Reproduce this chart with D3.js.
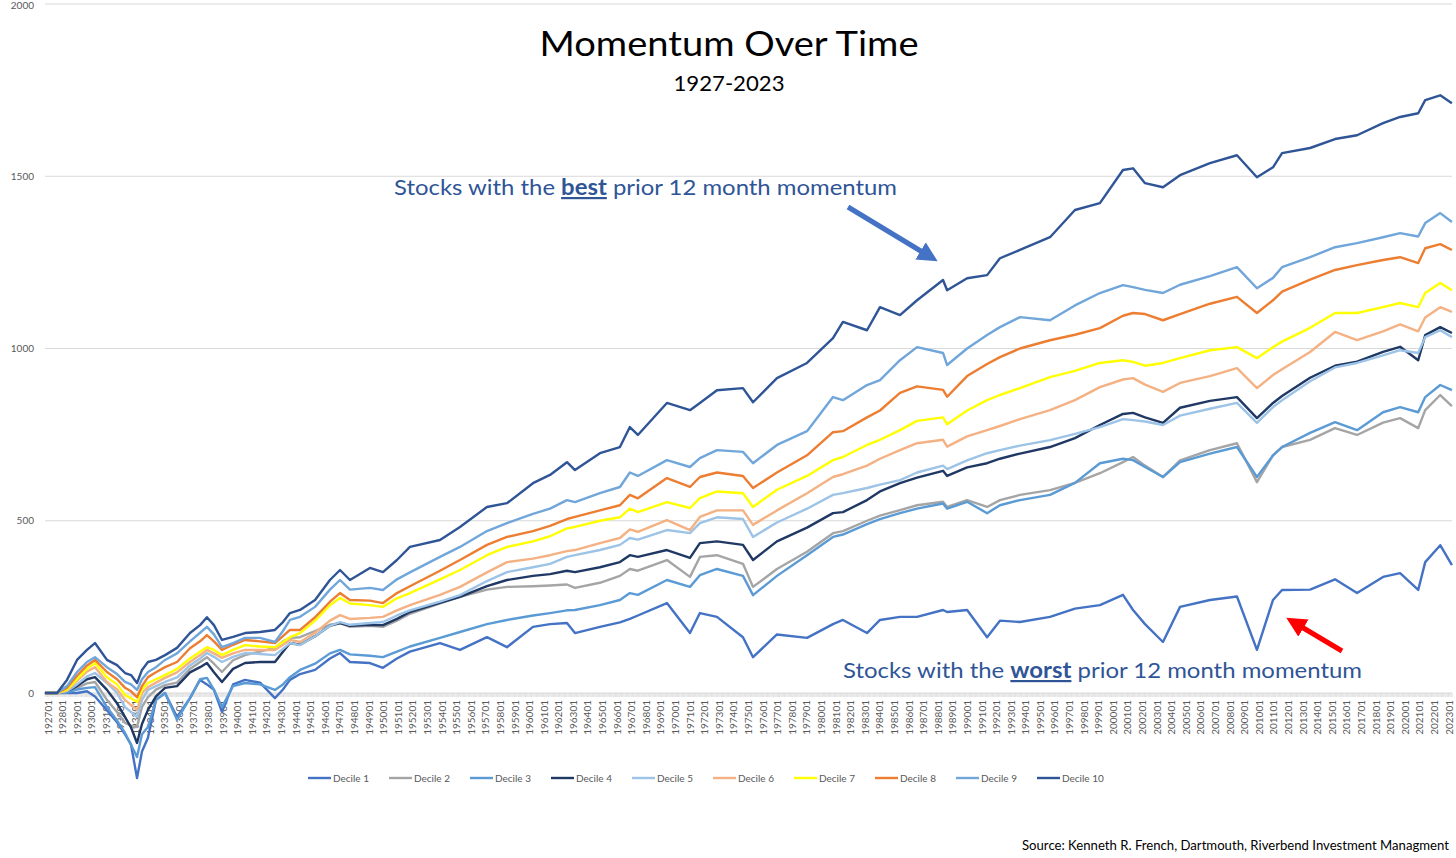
<!DOCTYPE html>
<html>
<head>
<meta charset="utf-8">
<script src="https://cdn.jsdelivr.net/npm/d3@7"></script>
<style>
	body { margin: 0; background: #fff; }
	svg { display: block; font-family: Lato, "Open Sans", sans-serif; }
</style>
</head>
<body>
<div id="chart-area"></div>
<script>
// sample dates (decimal years)
var dates = [1926.79, 1927.62, 1928.30, 1928.99, 1929.67, 1930.22, 1931.04, 1931.73, 1932.28, 1932.69,
	1933.10, 1933.44, 1933.85, 1934.40, 1935.02, 1935.84, 1936.73, 1937.42, 1937.89, 1938.37,
	1938.92, 1939.68, 1940.50, 1941.53, 1942.55, 1943.10, 1943.58, 1944.27, 1945.30, 1946.32,
	1947.01, 1947.69, 1949.06, 1949.95, 1950.91, 1951.80, 1953.86, 1955.23, 1957.08, 1958.45,
	1960.23, 1961.40, 1962.56, 1963.11, 1964.82, 1966.19, 1966.87, 1967.42, 1969.41, 1970.99,
	1971.67, 1972.84, 1974.62, 1975.31, 1976.95, 1979.01, 1980.79, 1981.47, 1983.12, 1984.01,
	1985.38, 1986.55, 1988.33, 1988.61, 1989.98, 1991.35, 1992.23, 1993.60, 1995.66, 1997.37,
	1999.08, 2000.66, 2001.35, 2002.17, 2003.40, 2004.57, 2006.62, 2008.47, 2009.84, 2010.94,
	2011.56, 2013.48, 2015.19, 2016.70, 2018.48, 2019.65, 2020.89, 2021.37, 2022.40, 2023.20];

var decile1 = [0, 0, 0, 0, 5, -10, -50, -85, -120, -150,
	-247, -170, -130, -20, 0, -70, -15, 38, 25, 9,
	-55, 25, 38, 30, -15, 10, 38, 55, 67, 100,
	116, 90, 87, 73, 100, 120, 145, 125, 162, 133,
	192, 200, 203, 174, 192, 205, 215, 225, 261, 174,
	232, 221, 162, 104, 170, 160, 200, 212, 174, 212,
	221, 221, 241, 235, 241, 162, 210, 206, 221, 245,
	255, 285, 241, 200, 148, 250, 270, 280, 125, 270,
	299, 300, 330, 290, 337, 348, 299, 380, 429, 371];
var decile2 = [0, 0, 3, 15, 28, 32, -20, -55, -87, -95,
	-99, -40, -12, 10, 23, 30, 70, 90, 104, 85,
	61, 95, 110, 120, 131, 150, 160, 162, 180, 198,
	203, 192, 195, 192, 210, 230, 260, 279, 300, 308,
	310, 312, 315, 305, 320, 340, 360, 355, 386, 337,
	395, 400, 375, 308, 360, 410, 464, 470, 500, 515,
	531, 545, 555, 540, 560, 540, 560, 575, 589, 610,
	638, 670, 685, 660, 627, 675, 705, 725, 612, 690,
	714, 735, 769, 749, 785, 798, 769, 821, 865, 833];
var decile3 = [0, 0, 2, 10, 15, 17, -41, -80, -116, -150,
	-186, -120, -99, -20, 0, -78, -15, 40, 44, 10,
	-41, 20, 29, 25, 9, 25, 46, 67, 85, 115,
	125, 112, 108, 104, 120, 135, 160, 177, 200, 212,
	225, 232, 240, 241, 255, 270, 290, 285, 328, 308,
	342, 360, 340, 284, 340, 400, 453, 460, 490, 505,
	522, 535, 550, 535, 555, 522, 545, 560, 575, 610,
	667, 680, 676, 656, 627, 670, 695, 714, 627, 690,
	714, 755, 786, 763, 815, 830, 815, 859, 894, 879];
var decile4 = [0, 0, 5, 20, 40, 46, 9, -30, -70, -100,
	-145, -90, -49, -10, 15, 20, 60, 75, 87, 60,
	32, 70, 87, 90, 90, 120, 145, 140, 165, 195,
	203, 195, 198, 197, 215, 235, 262, 279, 310, 328,
	340, 345, 355, 351, 365, 380, 400, 395, 415, 392,
	435, 440, 430, 386, 440, 480, 522, 525, 560, 585,
	609, 625, 645, 630, 655, 667, 680, 695, 714, 740,
	778, 810, 813, 800, 784, 828, 848, 859, 798, 842,
	862, 915, 950, 962, 990, 1005, 966, 1039, 1062, 1045];
var decile5 = [0, 0, 5, 25, 48, 58, 29, 0, -41, -55,
	-70, -20, 9, 20, 32, 45, 80, 100, 116, 105,
	90, 105, 116, 113, 110, 128, 145, 139, 165, 195,
	206, 198, 203, 206, 225, 240, 265, 284, 325, 351,
	365, 375, 395, 400, 415, 430, 450, 445, 473, 464,
	493, 510, 505, 453, 495, 535, 575, 580, 595, 605,
	618, 640, 660, 650, 675, 696, 705, 718, 734, 752,
	772, 795, 792, 788, 778, 805, 825, 842, 784, 830,
	850, 905, 945, 958, 980, 995, 987, 1033, 1053, 1033];
var decile6 = [0, 0, 8, 35, 62, 75, 32, 10, -20, -35,
	-49, 0, 17, 30, 44, 60, 90, 110, 125, 115,
	102, 115, 125, 125, 125, 140, 154, 148, 175, 210,
	226, 215, 218, 221, 240, 255, 285, 308, 350, 380,
	390, 400, 412, 415, 435, 450, 475, 468, 502, 473,
	511, 530, 530, 488, 530, 580, 627, 635, 660, 680,
	705, 725, 735, 715, 745, 763, 775, 795, 821, 850,
	888, 910, 914, 895, 874, 900, 920, 943, 885, 923,
	940, 990, 1048, 1024, 1050, 1070, 1050, 1090, 1120, 1106];
var decile7 = [0, 0, 10, 40, 70, 87, 46, 25, -6, -15,
	-26, 10, 29, 40, 52, 70, 100, 120, 133, 125,
	110, 125, 139, 135, 133, 148, 162, 174, 210, 255,
	276, 260, 255, 250, 275, 290, 330, 357, 400, 424,
	440, 455, 478, 482, 500, 510, 535, 525, 554, 537,
	566, 585, 580, 540, 590, 630, 676, 685, 720, 735,
	763, 790, 800, 780, 820, 850, 865, 885, 917, 935,
	958, 966, 961, 950, 958, 972, 995, 1004, 972, 1004,
	1020, 1060, 1103, 1103, 1120, 1132, 1120, 1161, 1190, 1169];
var decile8 = [0, 0, 15, 50, 80, 96, 61, 40, 15, 5,
	-12, 20, 46, 60, 75, 90, 130, 150, 168, 150,
	125, 140, 154, 150, 145, 165, 183, 183, 220, 265,
	290, 270, 268, 261, 290, 310, 355, 386, 430, 453,
	470, 485, 505, 511, 530, 545, 575, 565, 624, 598,
	627, 640, 630, 595, 640, 690, 757, 760, 800, 820,
	871, 890, 880, 860, 920, 955, 975, 1000, 1024, 1040,
	1059, 1095, 1103, 1100, 1082, 1100, 1130, 1150, 1103, 1140,
	1165, 1200, 1228, 1242, 1257, 1265, 1248, 1291, 1303, 1286];
var decile9 = [0, 0, 20, 61, 90, 104, 75, 55, 32, 25,
	9, 40, 61, 75, 96, 115, 150, 175, 192, 170,
	133, 145, 160, 160, 148, 180, 212, 221, 250, 300,
	328, 300, 305, 299, 330, 350, 395, 424, 470, 493,
	520, 535, 560, 554, 580, 598, 640, 630, 676, 656,
	682, 705, 700, 667, 720, 760, 859, 850, 894, 908,
	966, 1004, 987, 952, 1000, 1039, 1062, 1091, 1082, 1125,
	1161, 1184, 1178, 1170, 1161, 1185, 1210, 1236, 1175, 1205,
	1236, 1265, 1294, 1306, 1323, 1335, 1325, 1364, 1393, 1367];
var decile10 = [0, 0, 38, 96, 125, 145, 96, 81, 58, 52,
	29, 67, 90, 96, 110, 131, 174, 197, 220, 197,
	154, 163, 174, 177, 183, 206, 232, 241, 270, 328,
	357, 328, 363, 351, 386, 424, 444, 482, 540, 551,
	609, 633, 670, 647, 696, 714, 772, 749, 842, 821,
	842, 879, 885, 844, 914, 958, 1030, 1077, 1053, 1120,
	1097, 1140, 1199, 1169, 1204, 1213, 1262, 1286, 1323, 1402,
	1422, 1518, 1523, 1480, 1468, 1503, 1538, 1561, 1497, 1526,
	1567, 1582, 1608, 1619, 1654, 1672, 1683, 1721, 1735, 1712];

var seriesNames = ["Decile 1", "Decile 2", "Decile 3", "Decile 4", "Decile 5",
	"Decile 6", "Decile 7", "Decile 8", "Decile 9", "Decile 10"];
var seriesColors = ["#4472C4", "#A5A5A5", "#5B9BD5", "#203864", "#9DC3E6",
	"#F4B183", "#FFFF00", "#ED7D31", "#70A6DA", "#2F5597"];
var seriesValues = [decile1, decile2, decile3, decile4, decile5,
	decile6, decile7, decile8, decile9, decile10];

var yTicks = [0, 500, 1000, 1500, 2000];
var labelYears = d3.range(1927, 2024);

var width = 1456, height = 858;

var svg = d3.select("#chart-area")
	.append("svg")
		.attr("width", width)
		.attr("height", height);

var x = d3.scaleLinear()
	.domain([1927, 2023])
	.range([48, 1449]);
var y = d3.scaleLinear()
	.domain([0, 2000])
	.range([693, 4]);

// gridlines + y labels
svg.append("g").selectAll("line")
	.data(yTicks.filter(d => d != 0))
	.enter().append("line")
		.attr("x1", 45).attr("x2", 1452)
		.attr("y1", d => y(d)).attr("y2", d => y(d))
		.attr("stroke", "#D9D9D9")
		.attr("stroke-width", 1);

svg.append("g").selectAll("text")
	.data(yTicks)
	.enter().append("text")
		.attr("x", 34)
		.attr("y", d => Math.max(y(d), 5.5))
		.attr("dy", "0.35em")
		.attr("text-anchor", "end")
		.attr("font-size", "10px")
		.attr("fill", "#595959")
		.text(d => d);

// category axis at 0, a tick every month
var months = d3.range(0, 1158).map(i => 1926.8 + i / 12);
svg.append("g").selectAll("line")
	.data(months)
	.enter().append("line")
		.attr("x1", d => x(d)).attr("x2", d => x(d))
		.attr("y1", y(0)).attr("y2", y(0) + 4)
		.attr("stroke", "#CFCFCF")
		.attr("stroke-width", 0.6);
svg.append("line")
	.attr("x1", 45).attr("x2", 1452)
	.attr("y1", y(0)).attr("y2", y(0))
	.attr("stroke", "#D9D9D9");

svg.append("g").selectAll("text")
	.data(labelYears)
	.enter().append("text")
		.attr("transform", d => `translate(${x(d)}, ${y(0) + 7}) rotate(-90)`)
		.attr("dy", "0.35em")
		.attr("text-anchor", "end")
		.attr("font-size", "10px")
		.attr("fill", "#595959")
		.text(d => d + "01");

// lines
var line = d3.line()
	.x((d, i) => x(dates[i]))
	.y(d => y(d));

svg.append("g").selectAll("path")
	.data(seriesValues)
	.enter().append("path")
		.attr("d", d => line(d))
		.attr("fill", "none")
		.attr("stroke", (d, i) => seriesColors[i])
		.attr("stroke-width", 2.4)
		.attr("stroke-linejoin", "round");

// legend
var legend = svg.append("g").selectAll("g")
	.data(seriesNames)
	.enter().append("g")
		.attr("transform", (d, i) => `translate(${308 + i * 81}, 778)`);
legend.append("line")
	.attr("x1", 0).attr("x2", 23)
	.attr("stroke", (d, i) => seriesColors[i])
	.attr("stroke-width", 2.4);
legend.append("text")
	.attr("x", 25)
	.attr("dy", "0.35em")
	.attr("font-size", "10px")
	.attr("fill", "#595959")
	.text(d => d);

// titles
svg.append("text")
	.attr("x", 729).attr("y", 56)
	.attr("text-anchor", "middle")
	.attr("font-size", "35px")
	.attr("textLength", 379)
	.attr("lengthAdjust", "spacingAndGlyphs")
	.text("Momentum Over Time");
svg.append("text")
	.attr("x", 729).attr("y", 91)
	.attr("text-anchor", "middle")
	.attr("font-size", "21px")
	.attr("textLength", 111)
	.attr("lengthAdjust", "spacingAndGlyphs")
	.text("1927-2023");

// annotations
function note(px, py, len, word) {
	var t = svg.append("text")
		.attr("x", px).attr("y", py)
		.attr("font-size", "22px")
		.attr("fill", "#2F5597")
		.attr("textLength", len)
		.attr("lengthAdjust", "spacingAndGlyphs");
	t.append("tspan").text("Stocks with the ");
	t.append("tspan").attr("font-weight", "bold").attr("text-decoration", "underline").text(word);
	t.append("tspan").text(" prior 12 month momentum");
}
note(394, 195, 503, "best");
note(843, 678, 519, "worst");

var defs = svg.append("defs");
function arrow(id, color, x1, y1, x2, y2, w) {
	defs.append("marker")
		.attr("id", id)
		.attr("viewBox", "0 0 10 10")
		.attr("refX", 2).attr("refY", 5)
		.attr("markerWidth", 4).attr("markerHeight", 4)
		.attr("markerUnits", "strokeWidth")
		.attr("orient", "auto")
		.append("path")
			.attr("d", "M0,0 L10,5 L0,10 z")
			.attr("fill", color);
	svg.append("line")
		.attr("x1", x1).attr("y1", y1)
		.attr("x2", x2).attr("y2", y2)
		.attr("stroke", color)
		.attr("stroke-width", w)
		.attr("marker-end", `url(#${id})`);
}
arrow("blueHead", "#4472C4", 848, 207, 924, 253, 5);
arrow("redHead", "#FF0000", 1342, 651, 1300, 626, 5);

svg.append("text")
	.attr("x", 1449).attr("y", 850)
	.attr("text-anchor", "end")
	.attr("font-size", "13px")
	.attr("textLength", 427)
	.attr("lengthAdjust", "spacingAndGlyphs")
	.text("Source: Kenneth R. French, Dartmouth, Riverbend Investment Managment");
</script>
</body>
</html>
